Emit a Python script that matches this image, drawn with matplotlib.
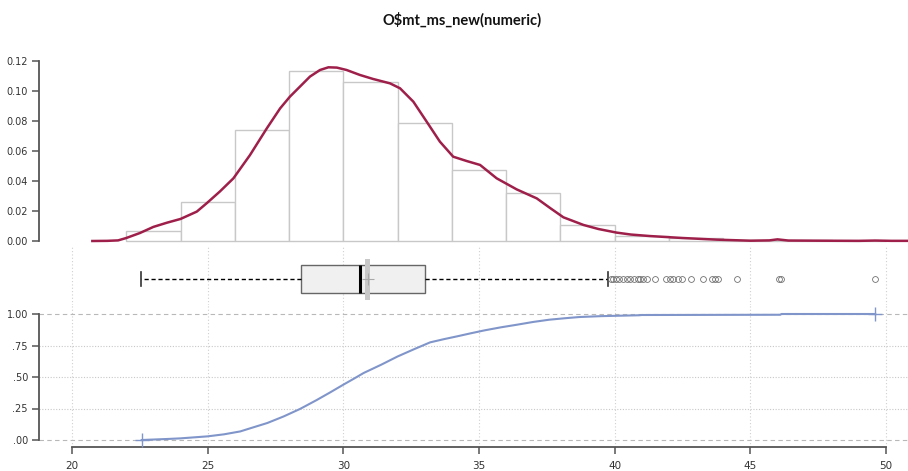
import matplotlib
matplotlib.use("Agg")
import matplotlib.pyplot as plt

TITLE = r"O\$mt_ms_new(numeric)"

# histogram (density scale), bins of width 2
bin_edges = [22, 24, 26, 28, 30, 32, 34, 36, 38, 40, 42, 44, 46, 48, 50]
bin_heights = [0.0067, 0.026, 0.0738, 0.1135, 0.1062, 0.0785, 0.0471, 0.0318,
               0.0109, 0.0033, 0.0017, 0.0006, 0.0006, 0.0003]

# kernel density curve
dens_x = [20.75, 21.3, 21.7, 22.0, 22.5, 23.0, 23.5, 24.0, 24.6, 24.96, 25.45,
          25.95, 26.56, 27.18, 27.67, 28.03, 28.4, 28.77, 29.14, 29.45, 29.76,
          30.12, 30.61, 31.1, 31.72, 32.09, 32.58, 33.07, 33.56, 34.05, 34.55,
          35.04, 35.65, 36.39, 37.13, 37.62, 38.11, 38.85, 39.4, 40.07, 40.6,
          41.3, 42.5, 43.76, 45.0, 45.7, 46.0, 46.4, 47.5, 49.0, 49.6, 50.2,
          50.8]
dens_y = [0.0, 0.0001, 0.0004, 0.002, 0.0053, 0.0094, 0.0122, 0.0147, 0.0196,
          0.0251, 0.033, 0.0418, 0.0573, 0.0751, 0.0884, 0.0962, 0.1029,
          0.1096, 0.114, 0.1158, 0.1156, 0.114, 0.1107, 0.108, 0.1051, 0.1018,
          0.0929, 0.0796, 0.0662, 0.0562, 0.0533, 0.0507, 0.0418, 0.0344,
          0.0284, 0.022, 0.0158, 0.0107, 0.008, 0.0056, 0.0043, 0.0033, 0.002,
          0.0009, 0.0002, 0.0004, 0.0011, 0.0003, 0.0002, 0.0001, 0.0003,
          0.0001, 0.0001]

# boxplot stats
q1, med, q3 = 28.44, 30.62, 33.01
whis_lo, whis_hi = 22.55, 39.75
mean_val = 30.9
fliers = [39.85, 39.95, 40.05, 40.15, 40.3, 40.45, 40.55, 40.7, 40.85, 40.95,
          41.05, 41.2, 41.5, 41.9, 42.05, 42.15, 42.35, 42.5, 42.8, 43.25,
          43.6, 43.7, 43.8, 44.5, 46.05, 46.12, 49.6]

# empirical cdf
cdf_x = [22.57, 23.5, 24.0, 25.0, 25.6, 26.2, 26.6, 27.2, 27.8, 28.4, 29.0,
         29.5, 30.0, 30.4, 30.75, 31.4, 32.0, 32.6, 33.2, 33.7, 34.2, 34.7,
         35.2, 35.8, 36.4, 37.0, 37.6, 38.2, 38.7, 39.5, 40.9, 41.0, 46.1,
         46.15, 49.6]
cdf_y = [0.0, 0.008, 0.013, 0.029, 0.045, 0.068, 0.095, 0.135, 0.187, 0.246,
         0.315, 0.376, 0.439, 0.488, 0.532, 0.598, 0.663, 0.72, 0.775, 0.80,
         0.823, 0.847, 0.87, 0.894, 0.915, 0.937, 0.955, 0.967, 0.976, 0.983,
         0.99, 0.992, 0.994, 1.0, 1.0]

x_ticks = [20, 25, 30, 35, 40, 45, 50]
dens_ticks = [0.0, 0.02, 0.04, 0.06, 0.08, 0.10, 0.12]
cdf_ticks = [0.0, 0.25, 0.5, 0.75, 1.0]
cdf_labels = [".00", ".25", ".50", ".75", "1.00"]

W, H = 908, 471
XLIM = (18.784, 50.811)
SPINE = "#555555"
TXT = "#333333"

plt.rcParams["font.family"] = ["DejaVu Sans"]

fig = plt.figure(figsize=(W / 100, H / 100), dpi=100)
left = 39 / W
width = (W - 39) / W


def px_axes(top, bottom):
    return fig.add_axes([left, (H - bottom) / H, width, (bottom - top) / H])


# ---- top: histogram + density
ax1 = px_axes(53.5, 244)
ax1.bar(bin_edges[:-1], bin_heights, width=2, align="edge", color="white",
        edgecolor="#c8c8c8", linewidth=1.0, zorder=1)
ax1.plot(dens_x, dens_y, color="#9e1f49", lw=1.8, zorder=3,
         solid_joinstyle="round")
ax1.set_xlim(XLIM)
ax1.set_ylim(-0.002, 0.125)
ax1.set_yticks(dens_ticks)
ax1.set_yticklabels(["%.2f" % t for t in dens_ticks])
ax1.set_xticks([])
for s in ["top", "right", "bottom"]:
    ax1.spines[s].set_visible(False)
ax1.spines["left"].set_bounds(0, 0.12)
ax1.spines["left"].set_color(SPINE)
ax1.spines["left"].set_linewidth(1.3)
ax1.tick_params(axis="y", length=5, width=1.1, color=SPINE, labelsize=7,
                labelcolor=TXT, pad=3)
ax1.patch.set_alpha(0)

# ---- middle: boxplot
ax2 = px_axes(246, 305)
ax2.set_xlim(XLIM)
ax2.set_ylim(0, 1)
for x in x_ticks:
    ax2.axvline(x, color="#d0d0d0", lw=0.8, ls=(0, (1, 2)), zorder=0)
pos = 0.4356
stats = [{"med": med, "q1": q1, "q3": q3, "whislo": whis_lo,
          "whishi": whis_hi, "fliers": fliers, "mean": mean_val}]
ax2.fill_betweenx([0.085, 0.78], mean_val - 0.1, mean_val + 0.1,
                  color="#c8c8c8", lw=0, zorder=3)
ax2.bxp(stats, positions=[pos], widths=0.48, orientation="horizontal",
        patch_artist=True, showmeans=True, manage_ticks=False,
        boxprops=dict(facecolor="#f0f0f0", edgecolor="#666666", lw=1.0),
        medianprops=dict(color="black", lw=2.2, solid_capstyle="butt"),
        whiskerprops=dict(color="black", lw=1.0, ls=(0, (3, 2))),
        capprops=dict(color="#333333", lw=1.2),
        flierprops=dict(marker="o", markersize=4.2, markerfacecolor="none",
                        markeredgecolor="#707070", markeredgewidth=0.6),
        meanprops=dict(marker="+", markersize=8, markeredgecolor="#a8a8a8",
                       markeredgewidth=0.8, zorder=4))
ax2.axis("off")

# ---- bottom: ecdf
ax3 = px_axes(305, 447)
ax3.set_xlim(XLIM)
ax3.set_ylim(-7 / 126, 1 + 9 / 126)
for x in x_ticks:
    ax3.axvline(x, color="#d0d0d0", lw=0.8, ls=(0, (1, 2)), zorder=0)
for y in cdf_ticks:
    if y in (0.0, 1.0):
        ax3.axhline(y, color="#b8b8b8", lw=0.8, ls=(0, (4, 3)), zorder=0)
    else:
        ax3.axhline(y, color="#c8c8c8", lw=0.8, ls=(0, (1, 1.5)), zorder=0)
ax3.plot(cdf_x, cdf_y, color="#8095c9", lw=1.5, zorder=3)
ax3.plot([cdf_x[0], cdf_x[-1]], [cdf_y[0], cdf_y[-1]], ls="none",
         marker="+", markersize=10, markeredgewidth=1.0, color="#8095c9",
         zorder=4)
ax3.set_yticks(cdf_ticks)
ax3.set_yticklabels(cdf_labels)
ax3.set_xticks(x_ticks)
ax3.set_xticklabels([str(t) for t in x_ticks])
for s in ["top", "right"]:
    ax3.spines[s].set_visible(False)
ax3.spines["left"].set_bounds(0, 1)
ax3.spines["bottom"].set_bounds(20, 50)
for s in ["left", "bottom"]:
    ax3.spines[s].set_color(SPINE)
    ax3.spines[s].set_linewidth(1.3)
ax3.tick_params(axis="y", length=5, width=1.1, color=SPINE, labelsize=7,
                labelcolor=TXT, pad=3)
ax3.tick_params(axis="x", length=5, width=1.1, color=SPINE, labelsize=7.5,
                labelcolor=TXT, pad=5)
ax3.patch.set_alpha(0)

fig.text(462 / W, 1 - 20 / H, TITLE, ha="center", va="center",
         fontsize=10.5, fontweight="bold", family=["Lato", "DejaVu Sans"],
         color="#111111")

fig.savefig("out.png", dpi=100)
